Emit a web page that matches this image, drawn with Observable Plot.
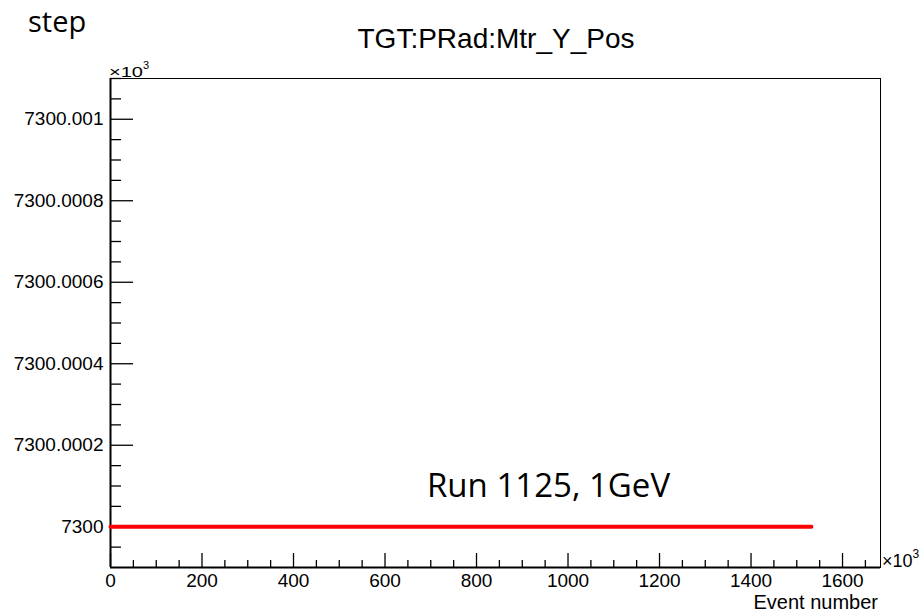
<!DOCTYPE html>
<html>
<head>
<meta charset="utf-8">
<script src="https://cdn.jsdelivr.net/npm/d3@7"></script>
<script src="https://cdn.jsdelivr.net/npm/@observablehq/plot@0.6"></script>
<style>
  html, body { margin: 0; padding: 0; background: #fff; overflow: hidden; }
  svg { display: block; }
</style>
</head>
<body>
<div id="chart"></div>
<script>
// Event number (×10^3) and TGT:PRad:Mtr_Y_Pos (×10^3)
const events = [0, 100, 200, 300, 400, 500, 600, 700, 800, 900, 1000, 1100, 1200, 1300, 1400, 1500, 1532];
const yPos   = [7300, 7300, 7300, 7300, 7300, 7300, 7300, 7300, 7300, 7300, 7300, 7300, 7300, 7300, 7300, 7300, 7300];

const xTicks = [0, 200, 400, 600, 800, 1000, 1200, 1400, 1600];
const yTicks = [7300, 7300.0002, 7300.0004, 7300.0006, 7300.0008, 7300.001];
const yTickLabels = ["7300", "7300.0002", "7300.0004", "7300.0006", "7300.0008", "7300.001"];

const titleText = "TGT:PRad:Mtr_Y_Pos";
const stepText = "step";
const runText = "Run 1125, 1GeV";
const xLabel = "Event number";

const W = 921, H = 614;
const mL = 110, mR = 41, mT = 78, mB = 47;
const fw = W - mL - mR, fh = H - mT - mB;

const xMinor = d3.range(0, 34).map(i => i * 50).filter(v => v % 200 !== 0 && v <= 1683);
const yMinor = d3.range(-1, 23).map(i => 7300 + i * 0.00005).filter((v, i) => (i - 1) % 4 !== 0 && v <= 7300.0011);

const data = events.map((e, i) => ({e, y: yPos[i]}));
const font = "'Liberation Sans', Arial, Helvetica, sans-serif";

const chart = Plot.plot({
  width: W, height: H,
  marginLeft: mL, marginRight: mR, marginTop: mT, marginBottom: mB,
  style: {fontFamily: font, fontSize: "19px", background: "#fff", color: "#000"},
  x: {domain: [0, 1683]},
  y: {domain: [7299.9999, 7300.0011]},
  marks: [
    Plot.frame({stroke: "#000", strokeWidth: 1}),
    Plot.axisX(xTicks, {tickSize: 0, tickPadding: 6, label: null, fontSize: 19, tickFormat: d => String(d)}),
    Plot.axisY(yTicks, {tickSize: 0, tickPadding: 7, label: null, fontSize: 19, tickFormat: (d, i) => yTickLabels[yTicks.indexOf(d)]}),
    Plot.tickX(xTicks, {x: d => d, insetTop: fh - 14, stroke: "#000", strokeWidth: 1.3}),
    Plot.tickX(xMinor, {x: d => d, insetTop: fh - 7, stroke: "#000", strokeWidth: 1.3}),
    Plot.tickY(yTicks, {y: d => d, insetRight: fw - 23, stroke: "#000", strokeWidth: 1.3}),
    Plot.tickY(yMinor, {y: d => d, insetRight: fw - 11, stroke: "#000", strokeWidth: 1.3}),
    Plot.ruleX([0], {stroke: "#000", strokeWidth: 2}),
    Plot.ruleY([7299.9999], {stroke: "#000", strokeWidth: 2}),
    Plot.line(data, {x: "e", y: "y", stroke: "#ff0000", strokeWidth: 4})
  ]
});

document.getElementById("chart").appendChild(chart);

const svg = d3.select(chart);
svg.attr("overflow", "visible");

svg.append("text").attr("x", 28).attr("y", 32).attr("text-anchor", "start")
  .attr("font-family", "'Open Sans', sans-serif").attr("font-size", 29).attr("fill", "#000")
  .text(stepText);

svg.append("text").attr("x", 496).attr("y", 48).attr("text-anchor", "middle")
  .attr("font-family", font).attr("font-size", 28).attr("fill", "#000")
  .text(titleText);

const tm = svg.append("text").attr("x", 109).attr("y", 77).attr("text-anchor", "start")
  .attr("font-family", font).attr("font-size", 14).attr("fill", "#000");
tm.append("tspan").attr("textLength", 34).attr("lengthAdjust", "spacingAndGlyphs").text("×10");
tm.append("tspan").attr("dy", -8).attr("font-size", 11).text("3");

const rm = svg.append("text").attr("x", 882).attr("y", 567).attr("text-anchor", "start")
  .attr("font-family", font).attr("font-size", 18).attr("fill", "#000");
rm.append("tspan").text("×10");
rm.append("tspan").attr("dy", -9).attr("font-size", 12).text("3");

svg.append("text").attr("x", 878).attr("y", 609).attr("text-anchor", "end")
  .attr("font-family", font).attr("font-size", 20).attr("fill", "#000")
  .text(xLabel);

svg.append("text").attr("x", 427).attr("y", 497).attr("text-anchor", "start")
  .attr("font-family", "'Open Sans', sans-serif").attr("font-size", 33).attr("fill", "#000")
  .text(runText);
</script>
</body>
</html>
